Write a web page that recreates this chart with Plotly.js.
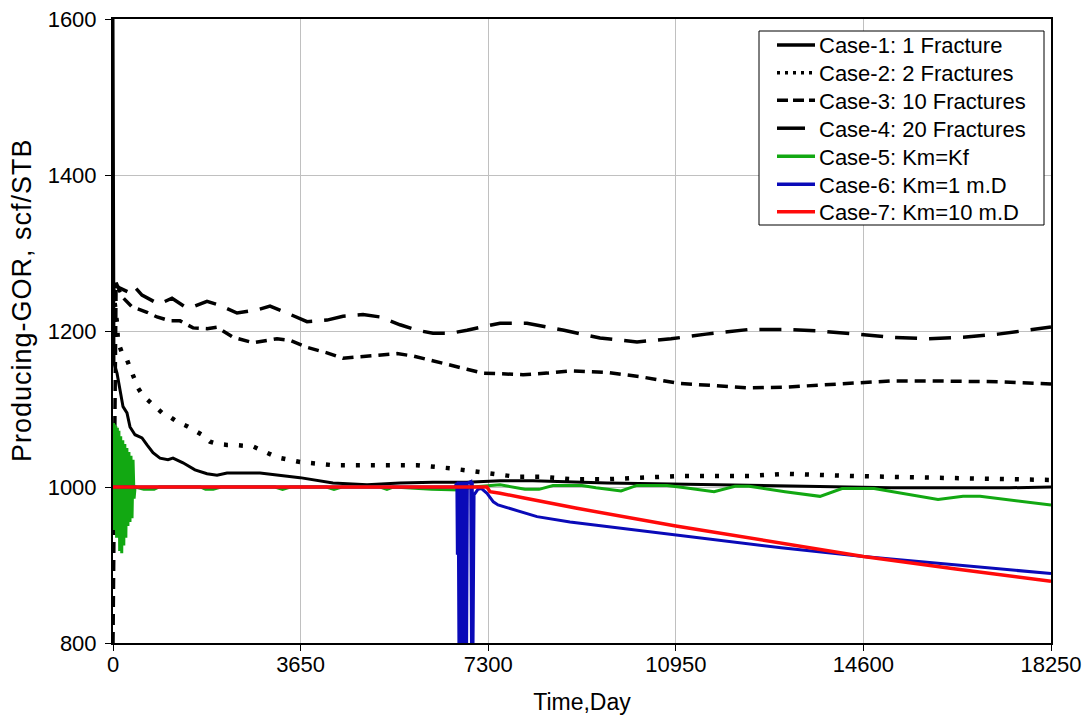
<!DOCTYPE html>
<html>
<head>
<meta charset="utf-8">
<script src="https://cdn.plot.ly/plotly-3.0.1.min.js"></script>
<style>
  html, body { margin: 0; padding: 0; background: #fff; }
  #chart { width: 1091px; height: 715px; }
  .annotation-text.gor-title { letter-spacing: 1px; }
</style>
</head>
<body>
<div id="chart"></div>
<script>
// Producing GOR versus time for the seven simulation cases

const xTickVals = [0, 3650, 7300, 10950, 14600, 18250];
const xTickText = ['0', '3650', '7300', '10950', '14600', '18250'];

const caseNames = [
  'Case-1: 1 Fracture',
  'Case-2: 2 Fractures',
  'Case-3: 10 Fractures',
  'Case-4: 20 Fractures',
  'Case-5: Km=Kf',
  'Case-6: Km=1 m.D',
  'Case-7: Km=10 m.D'
];

// Case-1: 1 fracture
const case1Days = [0, 19, 78, 136, 195, 272, 331, 428, 564, 662, 778, 914, 1070, 1167, 1362, 1595, 1829, 2024, 2218, 2860, 3638, 4280, 4942, 5584, 6226, 6888, 7530, 8172, 9612, 10857, 13075, 14029, 15138, 17433, 18250];
const case1Gor  = [1600, 1159, 1146, 1124, 1103, 1095, 1077, 1067, 1063, 1054, 1044, 1037, 1035, 1037, 1031, 1022, 1017, 1015, 1018, 1018, 1012, 1005, 1003, 1005, 1006, 1006, 1008, 1008, 1005, 1004, 1001, 1000, 999, 999, 1000];

// Case-2: 2 fractures
const case2Days = [0, 78, 97, 175, 272, 370, 486, 584, 720, 856, 973, 1109, 1265, 1440, 1557, 1732, 1887, 2043, 2218, 2335, 2724, 3191, 3638, 4280, 4942, 5915, 6557, 7199, 7861, 8367, 8911, 9612, 10293, 10993, 11694, 12375, 13075, 13756, 14457, 15138, 15838, 16539, 17219, 18250];
const case2Gor  = [1255, 1210, 1186, 1172, 1163, 1145, 1127, 1117, 1109, 1101, 1094, 1090, 1083, 1078, 1073, 1067, 1058, 1055, 1054, 1054, 1052, 1038, 1032, 1028, 1028, 1028, 1024, 1019, 1013, 1013, 1010, 1010, 1012, 1014, 1014, 1014, 1017, 1015, 1014, 1013, 1012, 1011, 1010, 1009];

// Case-3: 10 fractures
const case3Days = [0, 60, 175, 370, 662, 856, 1109, 1304, 1557, 1829, 2024, 2335, 2724, 3191, 3444, 3775, 4164, 4475, 4806, 5195, 5526, 5837, 6168, 6557, 6888, 7199, 7530, 7977, 8444, 8911, 9612, 10293, 10993, 11694, 12375, 13075, 13756, 14457, 15138, 15838, 16539, 17219, 18250];
const case3Gor  = [800, 1262, 1244, 1231, 1224, 1218, 1213, 1213, 1204, 1203, 1205, 1192, 1185, 1190, 1188, 1179, 1172, 1165, 1167, 1169, 1171, 1168, 1163, 1156, 1151, 1146, 1145, 1144, 1146, 1149, 1147, 1141, 1133, 1130, 1127, 1128, 1131, 1133, 1136, 1136, 1136, 1135, 1132];

// Case-4: 20 fractures
const case4Days = [0, 20, 136, 331, 428, 564, 817, 914, 1148, 1401, 1557, 1829, 2082, 2413, 2802, 3055, 3386, 3775, 4164, 4475, 4864, 5195, 5584, 5915, 6226, 6557, 6888, 7199, 7530, 8055, 8775, 9476, 10195, 10857, 11538, 12375, 13075, 13756, 14457, 15138, 15838, 16539, 17219, 18250];
const case4Gor  = [1250, 1259, 1255, 1249, 1256, 1246, 1237, 1235, 1242, 1231, 1231, 1238, 1233, 1223, 1227, 1232, 1223, 1212, 1214, 1219, 1221, 1218, 1208, 1201, 1197, 1197, 1201, 1205, 1210, 1210, 1201, 1191, 1186, 1190, 1196, 1202, 1202, 1200, 1196, 1192, 1190, 1192, 1196, 1205];

// Case-5: Km = Kf
const case5Days = [0, 10, 20, 30, 40, 55, 70, 85, 100, 115, 130, 150, 170, 190, 210, 230, 250, 270, 290, 310, 330, 350, 370, 390, 410, 430, 600, 800, 900, 1100, 1700, 1800, 1950, 2100, 3150, 3300, 3450, 4150, 4300, 4450, 5200, 5330, 5450, 6200, 6500, 6750, 7000, 7300, 7530, 8016, 8289, 8561, 9125, 9398, 9884, 10195, 10779, 11129, 11694, 12102, 12375, 13075, 13756, 14184, 14807, 16052, 16539, 16869, 18250];
const case5Gor  = [1000, 1082, 945, 1080, 950, 1078, 935, 1076, 940, 1072, 918, 1065, 915, 1060, 925, 1055, 935, 1050, 950, 1045, 955, 1040, 960, 1035, 985, 1000, 997, 997, 1000, 1000, 1000, 997, 997, 1000, 1000, 997, 1000, 1000, 997, 1000, 1000, 997, 1000, 997, 996, 996, 1000, 1002, 1003, 997, 997, 1002, 1002, 999, 995, 1002, 1002, 999, 994, 1001, 1001, 994, 988, 998, 998, 984, 988, 988, 977];

// Case-6: Km = 1 mD
const case6Days = [0, 6650, 6690, 6700, 6715, 6730, 6745, 6760, 6775, 6790, 6805, 6820, 6835, 6850, 6865, 6880, 6895, 6960, 6975, 6990, 7005, 7025, 7100, 7170, 7277, 7400, 7491, 7919, 8250, 8892, 10950, 13000, 14600, 16400, 18250];
const case6Gor  = [1000, 1000, 1005, 913, 1007, 800, 1007, 800, 1007, 800, 1007, 800, 1007, 800, 1007, 800, 1005, 1007, 800, 1007, 800, 990, 997, 998, 992, 981, 977, 968, 962, 955, 938, 922, 911, 900, 889];

// Case-7: Km = 10 mD
const case7Days = [0, 7277, 7335, 7530, 8000, 9000, 10950, 13000, 14600, 16400, 18250];
const case7Gor  = [1000, 1000, 994, 992, 986, 973, 950, 928, 911, 895, 879];

const seriesDays = [case1Days, case2Days, case3Days, case4Days, case5Days, case6Days, case7Days];
const seriesGor  = [case1Gor, case2Gor, case3Gor, case4Gor, case5Gor, case6Gor, case7Gor];

const lineStyles = [
  { color: '#000000', width: 3,   dash: 'solid' },
  { color: '#000000', width: 4.5, dash: '4px,11px' },
  { color: '#000000', width: 3.5, dash: '11px,7px' },
  { color: '#000000', width: 3.5, dash: '22px,12px' },
  { color: '#12a812', width: 3,   dash: 'solid' },
  { color: '#0a0ab8', width: 3,   dash: 'solid' },
  { color: '#ff0a0a', width: 3.5, dash: 'solid' }
];
// the key uses a tighter dot spacing for the dotted case
const keyDash = ['solid', '3px,5px', '11px,5px', '28px,20px', 'solid', 'solid', 'solid'];

const traces = caseNames.map((name, i) => ({
  type: 'scatter',
  mode: 'lines',
  name: name,
  x: seriesDays[i],
  y: seriesGor[i],
  line: lineStyles[i],
  showlegend: false
}));

// plot area in pixels: x 113..1051, y 19..643
const plotLeft = 113, plotWidth = 938, plotBottom = 643, plotHeight = 624;
const toPaperX = px => (px - plotLeft) / plotWidth;
const toPaperY = py => (plotBottom - py) / plotHeight;

const baseFont = { family: 'Liberation Sans, Arial, sans-serif', size: 22, color: '#000' };

// key box, line samples and labels
const keyRowY = [45, 72.7, 100.3, 128.2, 156.3, 184.2, 211.8];
const shapes = [{
  type: 'rect', xref: 'paper', yref: 'paper', layer: 'above',
  x0: toPaperX(759), x1: toPaperX(1044), y0: toPaperY(31), y1: toPaperY(225),
  fillcolor: '#ffffff', line: { color: '#000', width: 1 }
}];
const annotations = [];
caseNames.forEach((name, i) => {
  shapes.push({
    type: 'line', xref: 'paper', yref: 'paper', layer: 'above',
    x0: toPaperX(777), x1: toPaperX(815), y0: toPaperY(keyRowY[i]), y1: toPaperY(keyRowY[i]),
    line: { color: lineStyles[i].color, width: 3.5, dash: keyDash[i] }
  });
  annotations.push({
    xref: 'paper', yref: 'paper', showarrow: false,
    x: toPaperX(817), y: toPaperY(keyRowY[i] + 1),
    xanchor: 'left', yanchor: 'middle',
    text: name, font: baseFont
  });
});

// vertical axis title
annotations.push({
  xref: 'paper', yref: 'paper', showarrow: false,
  x: toPaperX(22), y: toPaperY(300),
  xanchor: 'center', yanchor: 'middle',
  textangle: -90,
  text: 'Producing-GOR, scf/STB',
  font: { family: baseFont.family, size: 27, color: '#000' }
});

const layout = {
  width: 1091,
  height: 715,
  margin: { l: plotLeft, r: 40, t: 19, b: 72 },
  paper_bgcolor: '#ffffff',
  plot_bgcolor: '#ffffff',
  font: baseFont,
  showlegend: false,
  xaxis: {
    range: [0, 18250],
    tickmode: 'array',
    tickvals: xTickVals,
    ticktext: xTickText,
    ticks: 'outside',
    ticklen: 6,
    tickcolor: '#000',
    showgrid: true,
    gridcolor: '#c0c0c0',
    gridwidth: 1,
    zeroline: false,
    showline: true,
    linecolor: '#000',
    linewidth: 2,
    mirror: true,
    tickfont: baseFont,
    ticklabelstandoff: -5,
    title: { text: 'Time,Day', font: { family: baseFont.family, size: 23, color: '#000' }, standoff: 17 }
  },
  yaxis: {
    range: [800, 1600],
    dtick: 200,
    ticks: 'outside',
    ticklen: 6,
    tickcolor: '#000',
    showgrid: true,
    gridcolor: '#c0c0c0',
    gridwidth: 1,
    zeroline: false,
    showline: true,
    linecolor: '#000',
    linewidth: 2,
    mirror: true,
    tickfont: baseFont,
    ticklabelstandoff: 4
  },
  shapes: shapes,
  annotations: annotations
};

Plotly.newPlot('chart', traces, layout, { displayModeBar: false, staticPlot: true }).then(gd => {
  // light tracking on the rotated title
  const titles = gd.querySelectorAll('.annotation-text');
  titles[titles.length - 1].classList.add('gor-title');
});
</script>
</body>
</html>
